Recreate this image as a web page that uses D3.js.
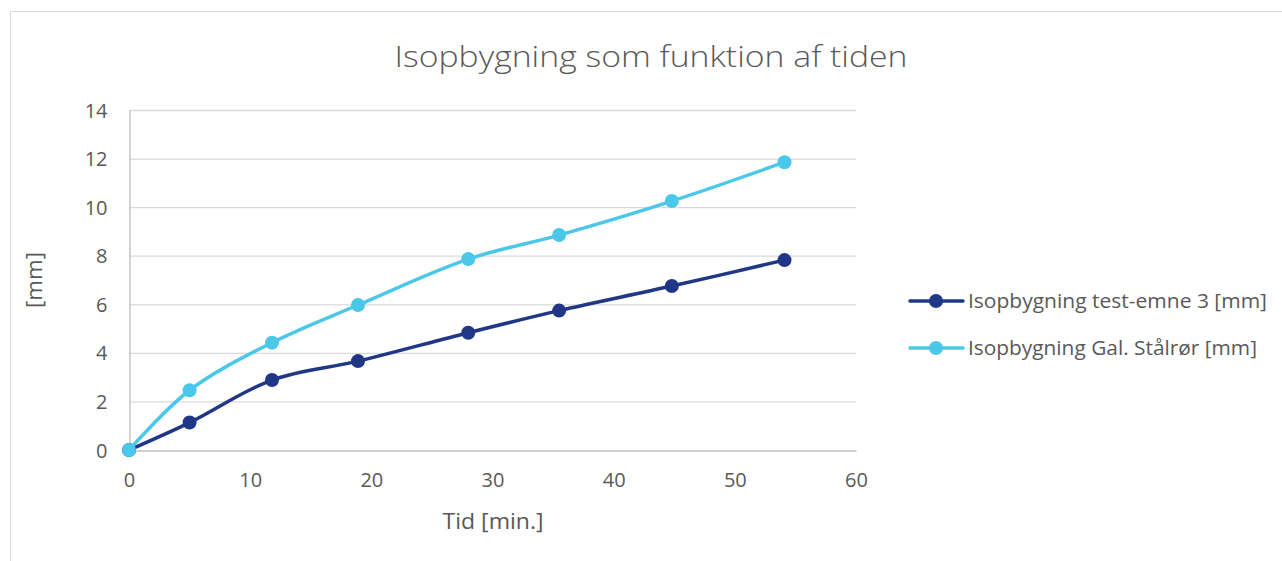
<!DOCTYPE html>
<html><head><meta charset="utf-8">
<script src="https://cdn.jsdelivr.net/npm/d3@7"></script>
<style>body{margin:0;background:#fff;overflow:hidden}svg{display:block}text{font-family:"Open Sans",sans-serif;fill:#595959}</style>
</head><body>
<svg id="c" width="1282" height="561"></svg>
<script>
const timeMin = [0, 5, 11.8, 18.9, 28, 35.5, 44.8, 54.1];
const testEmne3 = [0, 1.13, 2.88, 3.66, 4.83, 5.74, 6.75, 7.82];
const galStaalroer = [0, 2.46, 4.42, 5.97, 7.86, 8.85, 10.25, 11.85];
const seriesNames = ["Isopbygning test-emne 3 [mm]", "Isopbygning Gal. Stålrør [mm]"];
const seriesColors = ["#1F3786", "#4BC8E9"];
const xTicks = [0, 10, 20, 30, 40, 50, 60];
const yTicks = [0, 2, 4, 6, 8, 10, 12, 14];
const titleText = "Isopbygning som funktion af tiden";
const xTitle = "Tid [min.]";
const yTitle = "[mm]";

const svg = d3.select("#c");
svg.append("rect").attr("x",10.5).attr("y",11.5).attr("width",1290).attr("height",600)
  .attr("fill","#fff").attr("stroke","#d9d9d9");

const x = d3.scaleLinear().domain([0,60]).range([129,856]);
const y = d3.scaleLinear().domain([0,14]).range([450,110]);

svg.append("text").attr("x",651).attr("y",67).attr("text-anchor","middle")
  .style("font-size","30px").style("font-weight",300).attr("textLength",513).attr("lengthAdjust","spacingAndGlyphs").text(titleText);

const g = svg.append("g");
g.selectAll(".grid").data(yTicks.filter(d=>d>0)).join("line")
  .attr("x1",x(0)).attr("x2",x(60)).attr("y1",d=>y(d)+0.5).attr("y2",d=>y(d)+0.5)
  .attr("stroke","#d9d9d9").attr("stroke-width",1.3);

const yAxis = d3.axisLeft(y).tickValues(yTicks).tickSize(0).tickPadding(22);
const ya = g.append("g").attr("transform",`translate(${x(0)+0.5},0)`).call(yAxis);
ya.select(".domain").attr("stroke","#bfbfbf").attr("stroke-width",1.3);
ya.selectAll("text").style("font-size","20px").style("font-family","Open Sans").attr("fill","#595959").attr("dy","0.35em");

const xAxis = d3.axisBottom(x).tickValues(xTicks).tickSize(0).tickPadding(22);
const xa = g.append("g").attr("transform",`translate(0,${y(0)+0.5})`).call(xAxis);
xa.select(".domain").attr("stroke","#bfbfbf").attr("stroke-width",1.3);
xa.selectAll("text").style("font-size","20px").style("font-family","Open Sans").attr("fill","#595959");

svg.append("text").attr("x",493).attr("y",529).attr("text-anchor","middle").style("font-size","22px")
  .attr("textLength",101).attr("lengthAdjust","spacingAndGlyphs").text(xTitle);
svg.append("text").attr("transform","translate(42,280) rotate(-90)").attr("text-anchor","middle").style("font-size","22px")
  .attr("textLength",56).attr("lengthAdjust","spacingAndGlyphs").text(yTitle);

const seriesData = [testEmne3, galStaalroer];
const line = d3.line().x(d=>x(d[0])).y(d=>y(d[1])).curve(d3.curveCatmullRom.alpha(0.5));
seriesData.forEach((vals,i)=>{
  const pts = timeMin.map((t,j)=>[t,vals[j]]);
  g.append("path").datum(pts).attr("d",line).attr("fill","none")
    .attr("stroke",seriesColors[i]).attr("stroke-width",3.5).attr("stroke-linecap","round");
  g.selectAll(null).data(pts).join("circle").attr("cx",d=>x(d[0])).attr("cy",d=>y(d[1]))
    .attr("r",7).attr("fill",seriesColors[i]);
});

const legendWidths = [299, 289];
const leg = svg.append("g");
seriesNames.forEach((n,i)=>{
  const ly = 301 + i*47;
  leg.append("line").attr("x1",910).attr("x2",963).attr("y1",ly).attr("y2",ly)
    .attr("stroke",seriesColors[i]).attr("stroke-width",3.5).attr("stroke-linecap","round");
  leg.append("circle").attr("cx",936).attr("cy",ly).attr("r",7).attr("fill",seriesColors[i]);
  leg.append("text").attr("x",968).attr("y",ly).attr("dy","0.35em").style("font-size","20px")
    .attr("textLength",legendWidths[i]).attr("lengthAdjust","spacingAndGlyphs").text(n);
});
</script>
</body></html>
